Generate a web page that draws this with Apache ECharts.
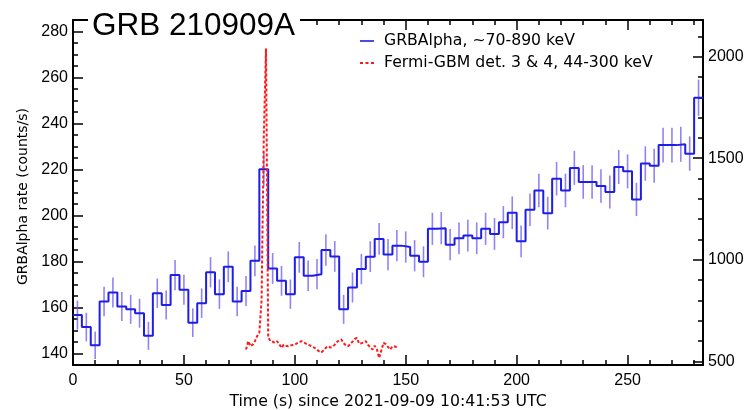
<!DOCTYPE html>
<html>
<head>
<meta charset="utf-8">
<title>GRB 210909A</title>
<script src="https://cdn.jsdelivr.net/npm/echarts@6/dist/echarts.min.js"></script>
<style>
  html, body { margin: 0; padding: 0; background: #fff; }
  #chart { width: 747px; height: 410px; }
</style>
</head>
<body>
<div id="chart"></div>
<script>
// GRBAlpha light curve: 4 s bins starting at t = 0 (counts/s)
const binWidth = 4;
const grbAlphaRate = [
  156.7, 151.5, 143.6, 162.6, 166.5, 160.4, 159.2, 157.5, 147.7, 166.2,
  161.1, 174.1, 167.7, 153.4, 161.9, 175.3, 165.8, 177.7, 162.6, 167.2,
  180.3, 220.1, 177.0, 171.6, 165.8, 181.8, 173.8, 174.5, 185.0, 182.2,
  159.2, 168.7, 176.7, 182.1, 189.8, 183.0, 186.9, 186.3, 182.5, 179.9,
  194.2, 194.5, 187.3, 190.1, 191.3, 190.1, 194.2, 192.0, 197.1, 201.2,
  188.8, 202.5, 210.9, 201.0, 216.0, 210.9, 220.7, 214.6, 214.6, 212.8,
  210.2, 221.1, 219.2, 207.0, 222.6, 221.6, 230.6, 230.6, 231.0, 226.9,
  251.2
];
// 1-sigma half-length of each bin's error bar (counts/s)
const grbAlphaErr = [
  6.3, 6.2, 6.0, 6.4, 6.5, 6.3, 6.3, 6.3, 6.1, 6.4,
  6.3, 6.6, 6.5, 6.2, 6.4, 6.6, 6.4, 6.7, 6.4, 6.5,
  6.7, 7.4, 6.7, 6.5, 6.4, 6.7, 6.6, 6.6, 6.8, 6.7,
  6.3, 6.5, 6.6, 6.7, 6.9, 6.8, 6.8, 6.8, 6.8, 6.7,
  7.0, 7.0, 6.8, 6.9, 6.9, 6.9, 7.0, 6.9, 7.0, 7.1,
  6.9, 7.1, 7.3, 7.1, 7.3, 7.3, 7.4, 7.3, 7.3, 7.3,
  7.2, 7.4, 7.4, 7.2, 7.5, 7.4, 7.6, 7.6, 7.6, 7.5,
  7.9
];

// Fermi-GBM (det. 3 & 4) count rate, right-hand scale
const gbmTime = [
  78, 79, 80, 81, 82, 83, 84, 85, 86, 87,
  88, 89, 90, 91, 92, 93, 94, 95, 96, 97,
  98, 99, 100, 101, 102, 103, 104, 105, 106, 107,
  108, 109, 110, 111, 112, 113, 114, 115, 116, 117,
  118, 119, 120, 121, 122, 123, 124, 125, 126, 127,
  128, 129, 130, 131, 132, 133, 134, 135, 136, 137,
  138, 139, 140, 141, 142, 143, 144, 145, 146
];
const gbmRate = [
  559, 600, 575, 583, 600, 625, 641, 800, 1600, 2040,
  620, 600, 598, 592, 600, 585, 567, 583, 578, 575,
  579, 581, 583, 590, 596, 600, 594, 588, 583, 578,
  572, 567, 558, 550, 545, 556, 568, 575, 569, 572,
  583, 596, 605, 608, 590, 580, 575, 586, 598, 611,
  616, 588, 590, 594, 600, 582, 570, 559, 578, 560,
  518, 555, 592, 586, 572, 559, 575, 574, 572
];

// Axis ranges and tick marks
const timeRange = [0, 284];
const leftRange = [135, 285];
const rightRange = [483, 2180];
const timeTicks = [0, 50, 100, 150, 200, 250];
const leftTicks = [140, 160, 180, 200, 220, 240, 260, 280];
const rightTicks = [500, 1000, 1500, 2000];
const timeMinorStep = 10;
const leftMinorStep = 5;
const rightMinorStep = 100;

const seriesNames = ['GRBAlpha, ~70-890 keV', 'Fermi-GBM det. 3 & 4, 44-300 keV'];
const titleText = 'GRB 210909A';
const xTitle = 'Time (s) since 2021-09-09 10:41:53 UTC';
const yTitle = 'GRBAlpha rate (counts/s)';

function minorValues(range, step, majors) {
  const out = [];
  const start = Math.ceil(range[0] / step) * step;
  for (let v = start; v <= range[1]; v += step) {
    if (v > range[0] && v < range[1] && majors.indexOf(v) < 0) out.push(v);
  }
  return out;
}

const tickFont = 'Liberation Sans';
const textFont = 'DejaVu Sans';
const frame = { color: '#000', width: 2 };
const tickLine = { color: '#000', width: 1.5 };

function axisPair(kind, position, range, majors, minorStep, showLabels, extra) {
  const major = Object.assign({
    type: 'value', position: position, min: range[0], max: range[1],
    axisLine: { show: true, onZero: false, lineStyle: frame },
    axisTick: { show: true, inside: true, length: 10, customValues: majors, lineStyle: tickLine },
    axisLabel: showLabels ? {
      show: true, customValues: majors, color: '#000',
      fontFamily: tickFont, fontSize: 16, margin: kind === 'x' ? 8 : 5,
      formatter: function (v) { return String(v); }
    } : { show: false },
    splitLine: { show: false }
  }, extra || {});
  const minor = {
    type: 'value', position: position, min: range[0], max: range[1],
    axisLine: { show: false, onZero: false },
    axisTick: { show: true, inside: true, length: 5,
      customValues: minorValues(range, minorStep, majors), lineStyle: tickLine },
    axisLabel: { show: false },
    splitLine: { show: false }
  };
  return [major, minor];
}

// Step-histogram points: each bin holds its level from its start to its end
const stepData = grbAlphaRate.map((v, i) => [i * binWidth, v]);
stepData.push([grbAlphaRate.length * binWidth, grbAlphaRate[grbAlphaRate.length - 1]]);

const errData = grbAlphaRate.map((v, i) => [
  i * binWidth + binWidth / 2, v - grbAlphaErr[i], v + grbAlphaErr[i]
]);

const gbmData = gbmTime.map((t, i) => [t, gbmRate[i]]);

const xAxes = [].concat(
  axisPair('x', 'bottom', timeRange, timeTicks, timeMinorStep, true, {
    name: xTitle, nameLocation: 'middle', nameGap: 27,
    nameTextStyle: { fontFamily: textFont, fontSize: 15.7, color: '#000' }
  }),
  axisPair('x', 'top', timeRange, timeTicks, timeMinorStep, false)
);
const yAxes = [].concat(
  axisPair('y', 'left', leftRange, leftTicks, leftMinorStep, true, {
    name: yTitle, nameLocation: 'middle', nameGap: 43, nameRotate: 90,
    nameTextStyle: { fontFamily: textFont, fontSize: 14, color: '#000', padding: [0, 8, 0, 0] }
  }),
  axisPair('y', 'right', rightRange, rightTicks, rightMinorStep, true)
);

const chart = echarts.init(document.getElementById('chart'), null, { renderer: 'canvas' });
chart.setOption({
  animation: false,
  backgroundColor: '#fff',
  grid: { left: 73, right: 44, top: 20, bottom: 45, containLabel: false, outerBoundsMode: 'none' },
  xAxis: xAxes,
  yAxis: yAxes,
  legend: {
    show: true, orient: 'vertical', left: 355, top: 28,
    itemWidth: 14, itemHeight: 14, itemGap: 6,
    textStyle: { fontFamily: textFont, fontSize: 15.7, color: '#000', padding: [0, 0, 0, 5] },
    data: [
      { name: seriesNames[0], icon: 'path://M0,0 L14,0 L14,1.6 L0,1.6 Z', itemStyle: { color: '#1e1ee8' } },
      { name: seriesNames[1],
        icon: 'path://M0,0 L3,0 L3,2 L0,2 Z M5.5,0 L8.5,0 L8.5,2 L5.5,2 Z M11,0 L14,0 L14,2 L11,2 Z',
        itemStyle: { color: '#ff1a1a' } }
    ]
  },
  graphic: [
    { type: 'rect', z: 100, zlevel: 1, shape: { x: 88, y: 9, width: 212, height: 28 }, style: { fill: '#fff' } },
    { type: 'text', z: 101, zlevel: 1, x: 92, y: 10.5,
      style: { text: titleText, font: '31.5px "Liberation Sans"', fill: '#000' } }
  ],
  series: [
    {
      type: 'custom', name: 'errors', xAxisIndex: 0, yAxisIndex: 0, z: 2,
      encode: { x: 0, y: [1, 2] },
      data: errData,
      renderItem: function (params, api) {
        const a = api.coord([api.value(0), api.value(1)]);
        const b = api.coord([api.value(0), api.value(2)]);
        return {
          type: 'line',
          shape: { x1: a[0], y1: a[1], x2: b[0], y2: b[1] },
          style: { stroke: 'rgba(110, 90, 240, 0.75)', lineWidth: 1.6 }
        };
      }
    },
    {
      type: 'line', name: seriesNames[0], xAxisIndex: 0, yAxisIndex: 0, z: 3,
      step: 'end', symbol: 'none', data: stepData,
      lineStyle: { color: '#1e1ee8', width: 2 }, itemStyle: { color: '#1e1ee8' }
    },
    {
      type: 'line', name: seriesNames[1], xAxisIndex: 0, yAxisIndex: 2, z: 4,
      symbol: 'none', data: gbmData,
      lineStyle: { color: '#ff1a1a', width: 2, type: [3, 2] }, itemStyle: { color: '#ff1a1a' }
    }
  ]
});
</script>
</body>
</html>
